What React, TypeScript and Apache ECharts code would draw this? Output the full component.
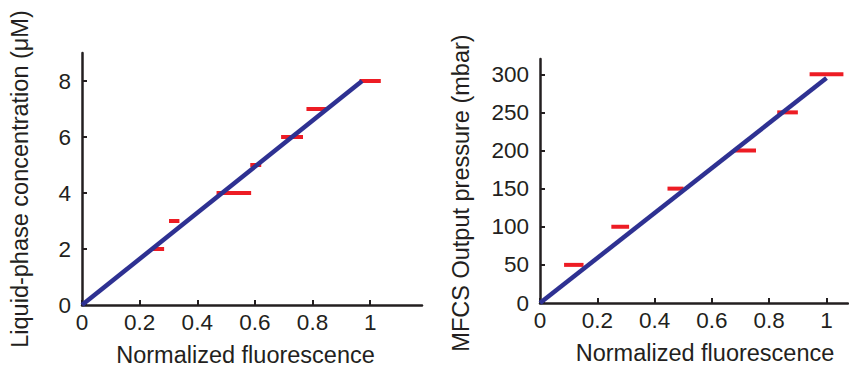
import React, { useEffect, useRef } from "react";
import * as echarts from "echarts";

// Left panel: liquid-phase concentration vs normalized fluorescence
const leftConc = [2, 3, 4, 5, 6, 7, 8];
const leftFluor = [0.264, 0.32, 0.527, 0.603, 0.729, 0.813, 1.0];
const leftErr = [0.021, 0.018, 0.06, 0.019, 0.038, 0.034, 0.037];
const leftFitX = [0, 0.972];
const leftFitY = [0, 8];
const leftXTicks = [0, 0.2, 0.4, 0.6, 0.8, 1];
const leftYTicks = [0, 2, 4, 6, 8];

// Right panel: MFCS output pressure vs normalized fluorescence
const rightPress = [50, 100, 150, 200, 250, 300];
const rightFluor = [0.118, 0.28, 0.473, 0.715, 0.864, 1.0];
const rightErr = [0.034, 0.031, 0.028, 0.039, 0.036, 0.059];
const rightFitX = [0, 1.0];
const rightFitY = [0, 295];
const rightXTicks = [0, 0.2, 0.4, 0.6, 0.8, 1];
const rightYTicks = [0, 50, 100, 150, 200, 250, 300];

const INK = "#231f20";
const BLUE = "#2e3192";
const RED = "#ed1c24";
const FONT = "Liberation Sans";

function errItem(params: any, api: any) {
  const x = api.value(0);
  const y = api.value(1);
  const e = api.value(2);
  const p1 = api.coord([x - e, y]);
  const p2 = api.coord([x + e, y]);
  return {
    type: "line",
    shape: { x1: p1[0], y1: p1[1], x2: p2[0], y2: p2[1] },
    style: { stroke: RED, lineWidth: 4 },
  };
}

function xAxisCfg(idx: number, max: number, ticks: number[], pad: number[]) {
  return {
    type: "value",
    gridIndex: idx,
    min: 0,
    max,
    interval: 0.2,
    splitLine: { show: false },
    axisLine: { show: true, onZero: false, lineStyle: { color: INK, width: 2.5 } },
    axisTick: { show: true, inside: true, length: 5, lineStyle: { color: INK, width: 2 }, customValues: ticks },
    axisLabel: {
      color: INK,
      fontFamily: FONT,
      fontSize: 22.5,
      margin: 6,
      customValues: ticks,
      formatter: (v: number) => String(v),
    },
    name: "Normalized fluorescence",
    nameLocation: "middle",
    nameGap: 38,
    nameTextStyle: { color: INK, fontFamily: FONT, fontSize: 23.5, padding: pad },
  };
}

function yAxisCfg(idx: number, max: number, interval: number, ticks: number[], name: string, gap: number, pad: number[]) {
  return {
    type: "value",
    gridIndex: idx,
    min: 0,
    max,
    interval,
    splitLine: { show: false },
    axisLine: { show: true, onZero: false, lineStyle: { color: INK, width: 2.5 } },
    axisTick: { show: true, inside: true, length: 5, lineStyle: { color: INK, width: 2 }, customValues: ticks },
    axisLabel: {
      color: INK,
      fontFamily: FONT,
      fontSize: 22.5,
      margin: 11,
      customValues: ticks,
    },
    name,
    nameLocation: "middle",
    nameGap: gap,
    nameTextStyle: { color: INK, fontFamily: FONT, fontSize: 23.5, padding: pad },
  };
}

export default function App() {
  const ref = useRef<HTMLDivElement>(null);
  useEffect(() => {
    if (!ref.current) return;
    const chart = echarts.init(ref.current, null, { renderer: "svg" });
    const option: any = {
      animation: false,
      backgroundColor: "#ffffff",
      grid: [
        { left: 82, top: 53, width: 340, height: 252, containLabel: false, outerBoundsMode: "none" },
        { left: 540, top: 59, width: 308, height: 244, containLabel: false, outerBoundsMode: "none" },
      ],
      xAxis: [xAxisCfg(0, 1.18, leftXTicks, [0, 13, 0, 0]), xAxisCfg(1, 1.075, rightXTicks, [0, 0, 0, 22])],
      yAxis: [
        yAxisCfg(0, 9, 1, leftYTicks, "Liquid-phase concentration (μM)", 50, [0, 0, 0, 0]),
        yAxisCfg(1, 320, 10, rightYTicks, "MFCS Output pressure (mbar)", 67, [0, 24, 0, 0]),
      ],
      series: [
        {
          type: "line",
          xAxisIndex: 0,
          yAxisIndex: 0,
          data: leftFitX.map((x, i) => [x, leftFitY[i]]),
          symbol: "none",
          lineStyle: { color: BLUE, width: 4.5 },
          z: 2,
        },
        {
          type: "custom",
          xAxisIndex: 0,
          yAxisIndex: 0,
          data: leftFluor.map((x, i) => [x, leftConc[i], leftErr[i]]),
          renderItem: errItem,
          z: 1,
        },
        {
          type: "line",
          xAxisIndex: 1,
          yAxisIndex: 1,
          data: rightFitX.map((x, i) => [x, rightFitY[i]]),
          symbol: "none",
          lineStyle: { color: BLUE, width: 4.5 },
          z: 2,
        },
        {
          type: "custom",
          xAxisIndex: 1,
          yAxisIndex: 1,
          data: rightFluor.map((x, i) => [x, rightPress[i], rightErr[i]]),
          renderItem: errItem,
          z: 1,
        },
      ],
    };
    chart.setOption(option);
    return () => chart.dispose();
  }, []);
  return (
    <div
      ref={ref}
      style={{ position: "fixed", left: 0, top: 0, width: 849, height: 368, background: "#fff" }}
    />
  );
}
